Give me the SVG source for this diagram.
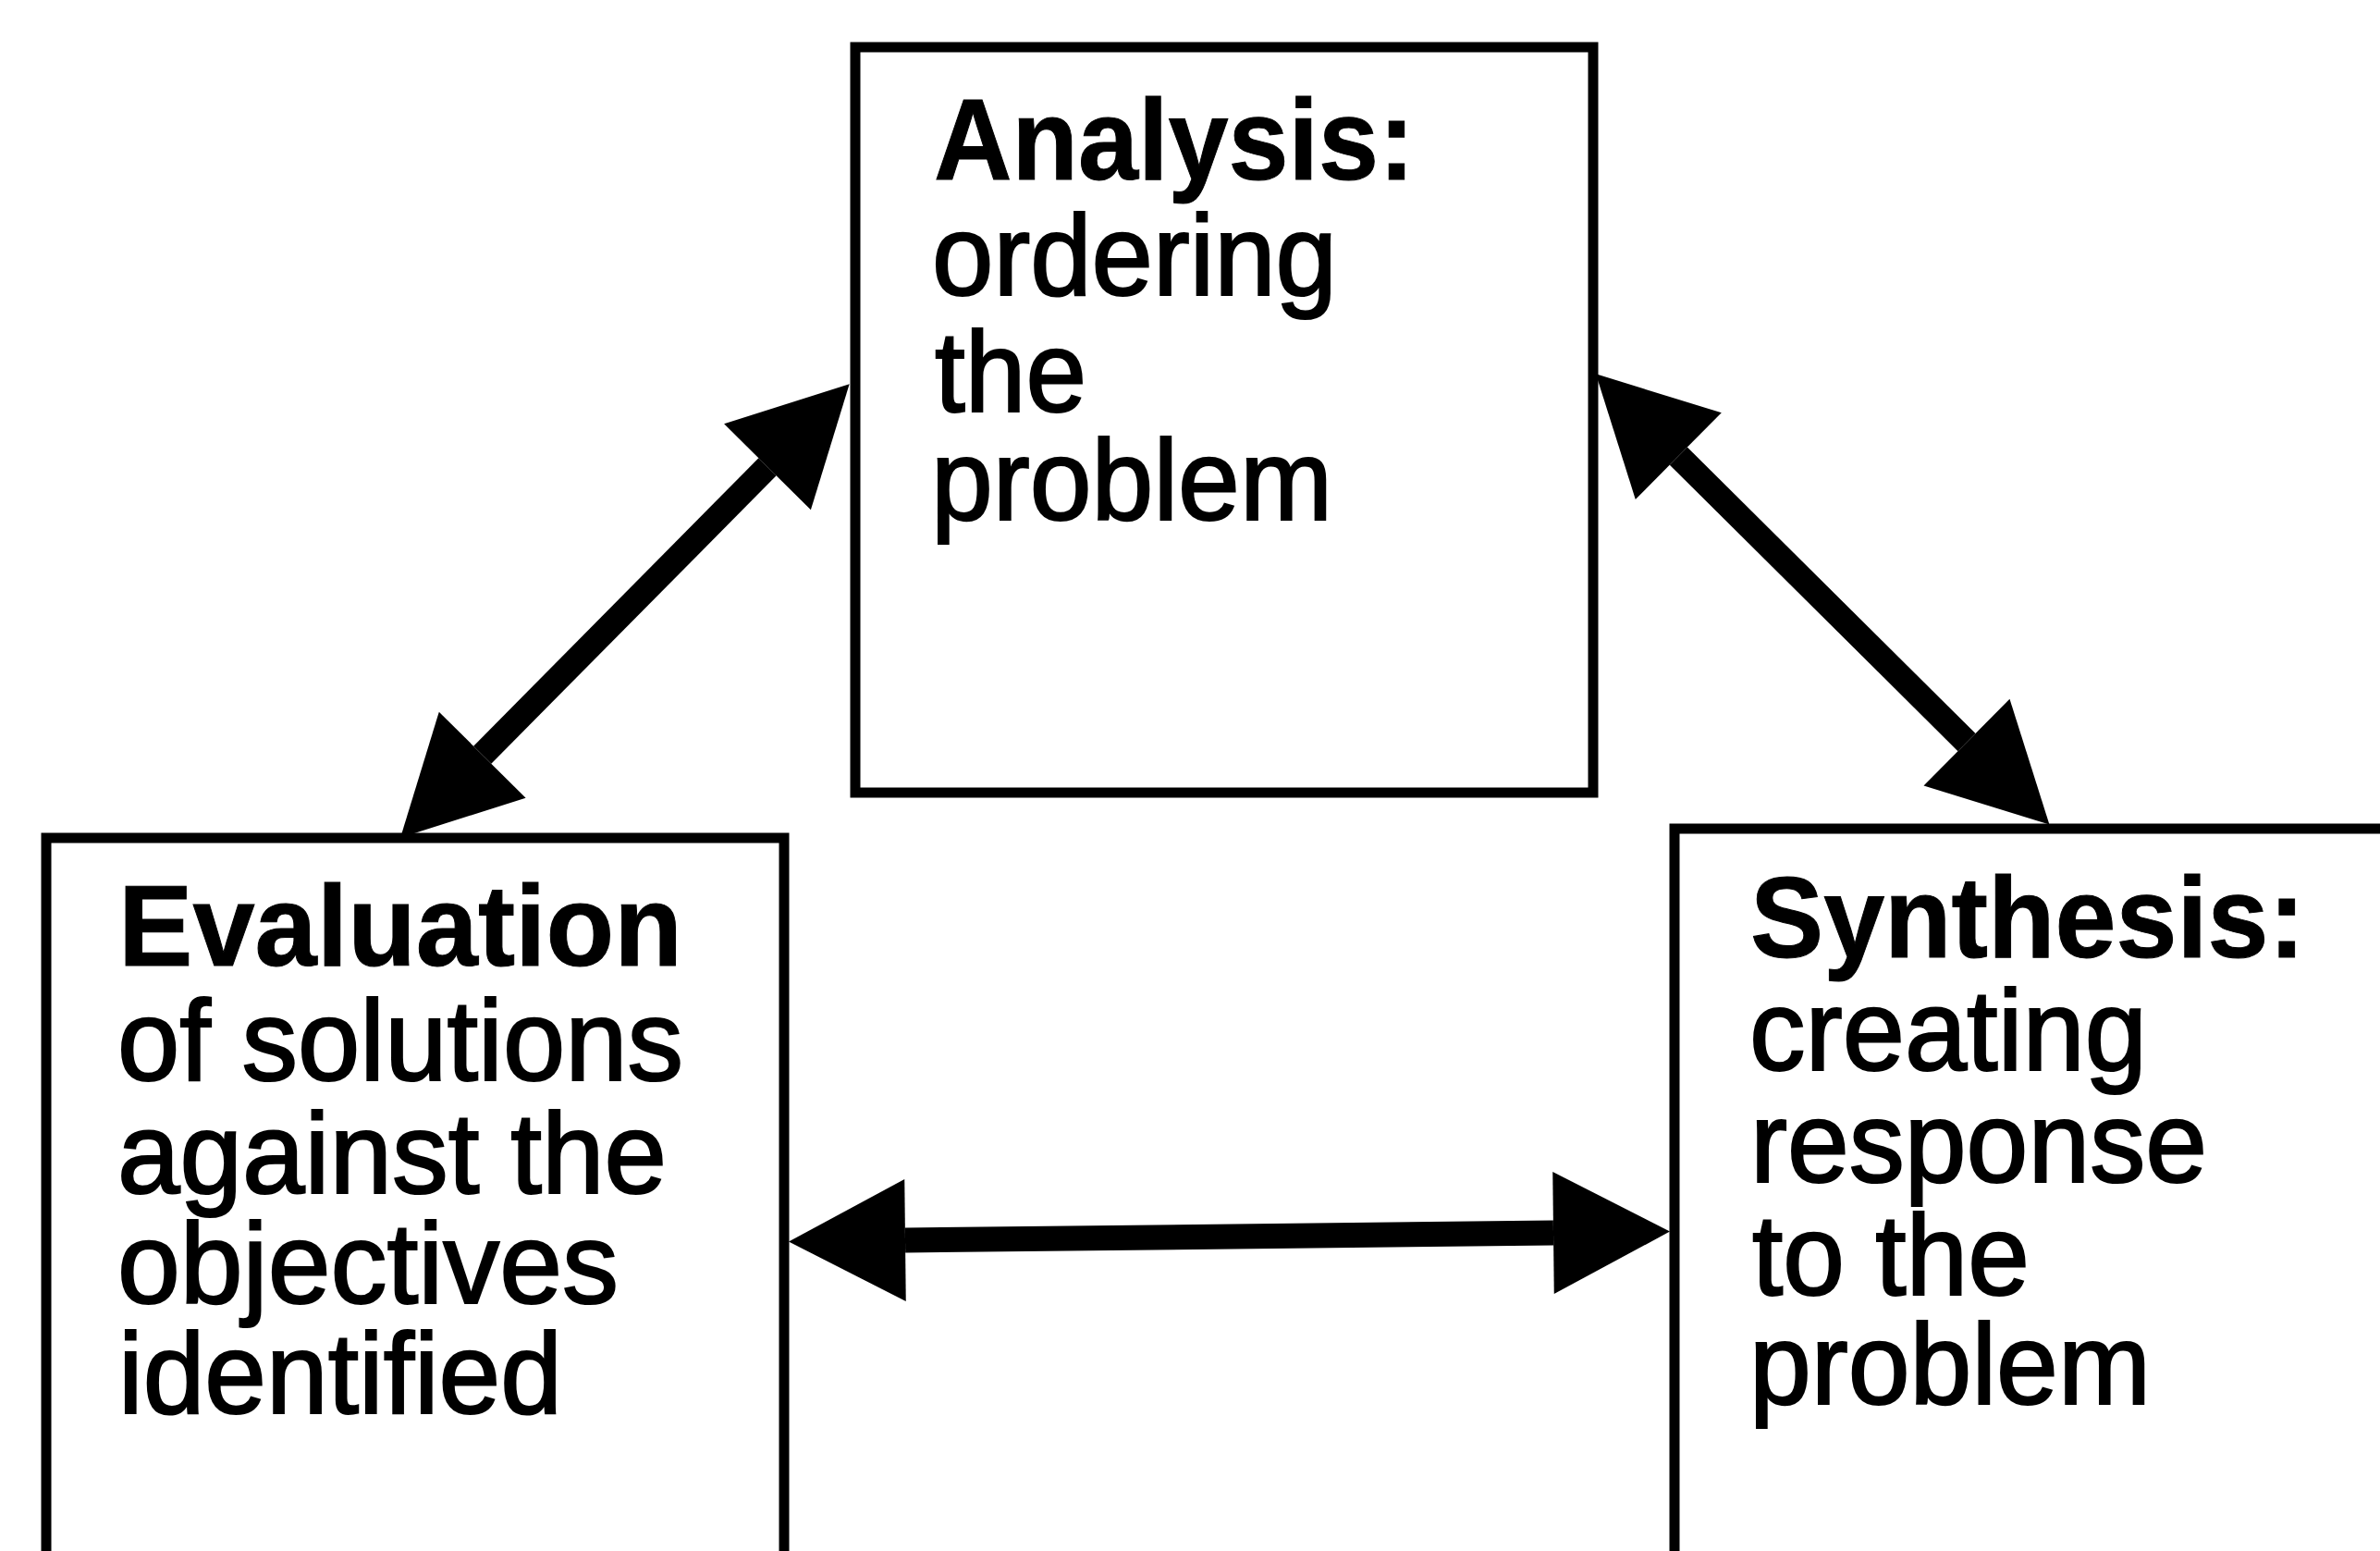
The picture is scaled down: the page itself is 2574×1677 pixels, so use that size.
<svg xmlns="http://www.w3.org/2000/svg" width="2574" height="1677" viewBox="0 0 2574 1677">
  <defs>
    <style>
      .box { fill: #ffffff; stroke: #000000; stroke-width: 11; }
      .link { stroke: #000000; stroke-width: 27; fill: none; marker-start: url(#head); marker-end: url(#head); }
      .t { font-family: "Liberation Sans", Arial, Helvetica, sans-serif; font-size: 124px; fill: #000000; stroke: #000000; stroke-width: 2.2; }
      .b { font-weight: bold; stroke-width: 1; }
    </style>
    <!-- solid triangular arrowhead, base at the path end, tip pointing outward -->
    <marker id="head" markerUnits="userSpaceOnUse" markerWidth="126" markerHeight="132"
            viewBox="0 0 126 132" refX="0" refY="66" orient="auto-start-reverse" overflow="visible">
      <path d="M0,0 L126,66 L0,132 Z" fill="#000000"/>
    </marker>
  </defs>

  <rect width="2574" height="1677" fill="#ffffff"/>

  <!-- Analysis -->
  <g id="analysis">
    <rect class="box" x="925" y="51" width="798" height="806"/>
    <text class="t b" x="1010" y="194" textLength="520" lengthAdjust="spacingAndGlyphs">Analysis:</text>
    <text class="t" x="1008" y="319" textLength="438" lengthAdjust="spacingAndGlyphs">ordering</text>
    <text class="t" x="1011" y="445" textLength="164" lengthAdjust="spacingAndGlyphs">the</text>
    <text class="t" x="1007" y="562" textLength="434" lengthAdjust="spacingAndGlyphs">problem</text>
  </g>

  <!-- Evaluation -->
  <g id="evaluation">
    <rect class="box" x="50" y="906" width="798" height="820"/>
    <text class="t b" x="128" y="1044" textLength="610" lengthAdjust="spacingAndGlyphs">Evaluation</text>
    <text class="t" x="127" y="1168" textLength="612" lengthAdjust="spacingAndGlyphs">of solutions</text>
    <text class="t" x="127" y="1290" textLength="594" lengthAdjust="spacingAndGlyphs">against the</text>
    <text class="t" x="127" y="1409" textLength="542" lengthAdjust="spacingAndGlyphs">objectives</text>
    <text class="t" x="128" y="1528" textLength="480" lengthAdjust="spacingAndGlyphs">identified</text>
  </g>

  <!-- Synthesis -->
  <g id="synthesis">
    <rect class="box" x="1811" y="896" width="900" height="900"/>
    <text class="t b" x="1893" y="1035" textLength="600" lengthAdjust="spacingAndGlyphs">Synthesis:</text>
    <text class="t" x="1892" y="1157" textLength="430" lengthAdjust="spacingAndGlyphs">creating</text>
    <text class="t" x="1893" y="1278" textLength="494" lengthAdjust="spacingAndGlyphs">response</text>
    <text class="t" x="1895" y="1400" textLength="300" lengthAdjust="spacingAndGlyphs">to the</text>
    <text class="t" x="1892" y="1518" textLength="434" lengthAdjust="spacingAndGlyphs">problem</text>
  </g>

  <!-- two-way connectors between the three stages -->
  <g id="connectors">
    <line class="link" x1="521.7" y1="816.2" x2="830" y2="504.8"/>
    <line class="link" x1="1815.3" y1="493.1" x2="2127" y2="802.6"/>
    <line class="link" x1="979" y1="1341" x2="1680" y2="1333"/>
  </g>
</svg>
